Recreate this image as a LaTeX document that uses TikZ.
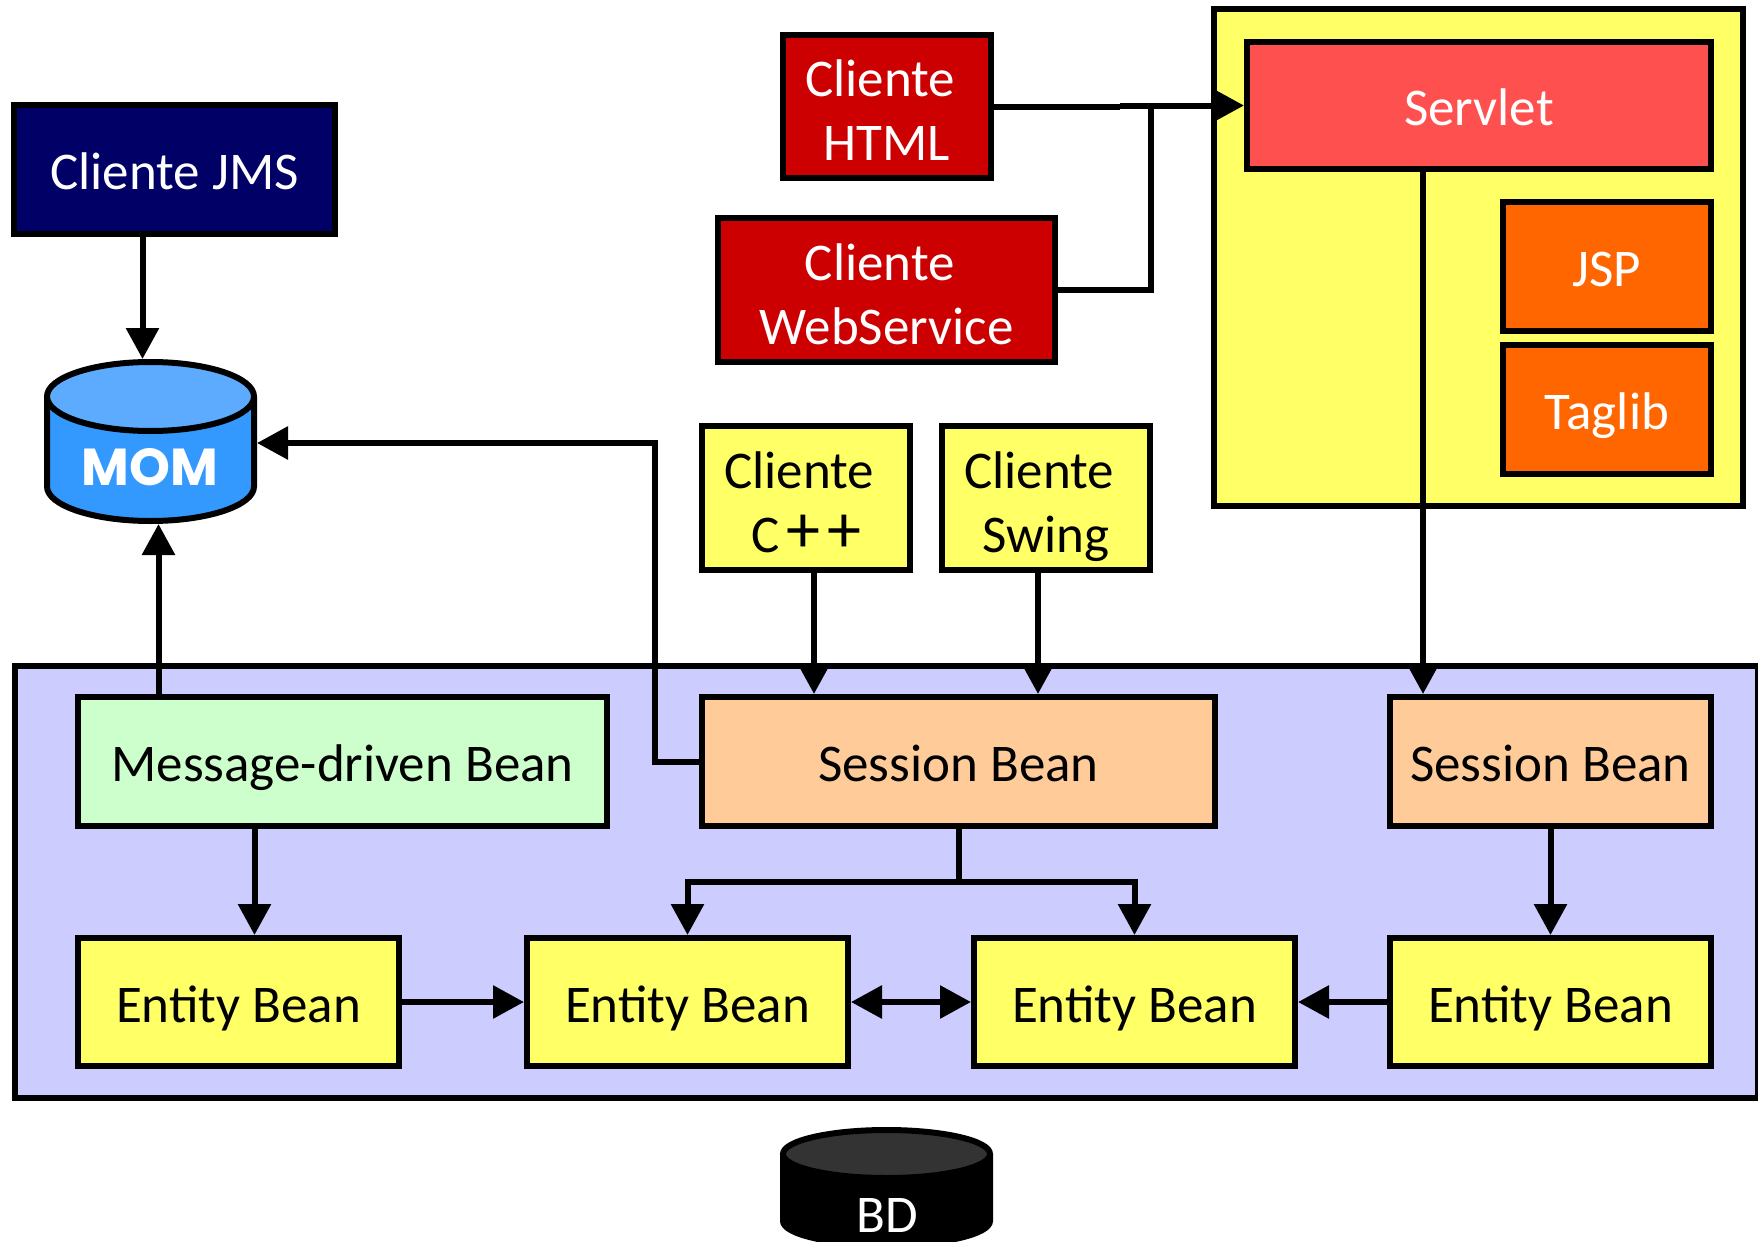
\documentclass[tikz,border=0pt]{standalone}
\usepackage{fontspec}
\setmainfont{Carlito}
\newfontfamily\fontemom{Poppins}
\usetikzlibrary{arrows.meta}

\definecolor{azulescuro}{HTML}{000066}
\definecolor{vermelho}{HTML}{CC0000}
\definecolor{salmao}{HTML}{FF5050}
\definecolor{laranja}{HTML}{FF6600}
\definecolor{amarelo}{HTML}{FFFF66}
\definecolor{lavanda}{HTML}{CCCCFF}
\definecolor{verdeclaro}{HTML}{CCFFCC}
\definecolor{pessego}{HTML}{FFCC99}
\definecolor{azul}{HTML}{3399FF}
\definecolor{azulclaro}{HTML}{5CABFF}

\newcommand{\cliente}{\rule{0pt}{28pt}Cliente\hspace*{6.7pt}}
\newcommand{\escora}{\rule[-5.6pt]{0pt}{31.6pt}}

\tikzset{
  caixa/.style 2 args={draw,line width=3pt,inner sep=0pt,align=center,
    minimum width=#1,minimum height=#2,text=black,
    font=\fontsize{26.5}{32}\selectfont,
    execute at begin node=\escora,execute at end node=\escora},
  base/.style 2 args={inner sep=0pt,outer sep=1.5pt,minimum width=#1,minimum height=#2},
  linha/.style={line width=3pt},
  seta/.style={line width=3pt,-{Triangle[length=15.5pt,width=16pt]}},
  setadupla/.style={line width=3pt,{Triangle[length=15.5pt,width=16pt]}-{Triangle[length=15.5pt,width=16pt]}}
}

\begin{document}
\begin{tikzpicture}[x=.5pt,y=-.5pt]
  \path[use as bounding box,clip] (0,0) rectangle (1758,1242);

  % containers
  \node[caixa={871.75pt}{216pt},fill=lavanda] (ejb) at (886.5,882) {};
  \node[caixa={264.5pt}{248.5pt},fill=amarelo] (web) at (1478.5,257.5) {};

  % clientes
  \node[caixa={160.5pt}{64.5pt},fill=azulescuro,text=white] (jms) at (174.5,169.5) {Cliente JMS};
  \node[caixa={104pt}{71.5pt},fill=vermelho,text=white] (html) at (887,106.5) {\cliente\\HTML};
  \node[caixa={168.5pt}{72pt},fill=vermelho,text=white] (ws) at (886.5,290) {\cliente\\WebService};
  \node[caixa={104pt}{72pt},fill=amarelo] (cpp) at (806,498) {\cliente\\C{\fontsize{34}{32}\selectfont\kern3.5pt+\kern3.5pt+}};
  \node[caixa={104pt}{72pt},fill=amarelo] (swing) at (1046,498) {\cliente\\Swing};

  % camada web
  \node[caixa={232pt}{63.5pt},fill=salmao,text=white] (servlet) at (1479,105.5) {Servlet};
  \node[caixa={104pt}{64.5pt},fill=laranja,text=white] (jsp) at (1607,266.5) {JSP};
  \node[caixa={104pt}{64.5pt},fill=laranja,text=white] (taglib) at (1607,409.5) {Taglib};

  % beans
  \node[caixa={264.5pt}{64.5pt},fill=verdeclaro] (mdb) at (342.5,761.5) {Message-driven Bean};
  \node[caixa={256.5pt}{64.5pt},fill=pessego] (sessaoa) at (958.5,761.5) {Session Bean};
  \node[caixa={160.5pt}{64.5pt},fill=pessego] (sessaob) at (1550.5,761.5) {Session Bean};
  \node[caixa={160.5pt}{64pt},fill=amarelo] (entidadea) at (238.5,1002) {Entity Bean};
  \node[caixa={160.5pt}{64pt},fill=amarelo] (entidadeb) at (687.5,1002) {Entity Bean};
  \node[caixa={160.5pt}{64pt},fill=amarelo] (entidadec) at (1134.5,1002) {Entity Bean};
  \node[caixa={160.5pt}{64pt},fill=amarelo] (entidaded) at (1550.5,1002) {Entity Bean};

  % cilindros
  \draw[linha,fill=azul] (47,396.5) -- (47,486.5) arc[start angle=180,end angle=0,x radius=103.5,y radius=34.5] -- (254,396.5);
  \draw[linha,fill=azulclaro] (150.5,396.5) ellipse[x radius=103.5,y radius=34.5];
  \node[base={103.5pt}{79.5pt}] (mom) at (150.5,441.5) {};
  \node[font=\fontemom\bfseries\fontsize{26}{30}\selectfont,text=white] (momtexto) at (150,467) {MOM};
  \draw[linha,fill=black] (783,1154) -- (783,1221) arc[start angle=180,end angle=0,x radius=103.5,y radius=24] -- (990,1154);
  \draw[linha,fill=black!80] (886.5,1154) ellipse[x radius=103.5,y radius=24];
  \node[font=\fontsize{26.5}{32}\selectfont,text=white] (bd) at (887,1215) {BD};

  % ligacoes
  \coordinate (juncao) at (1120,105.5);
  \coordinate (ramo) at (958.5,882);
  \draw[linha] (html.east) -- (html.east -| juncao);
  \draw[seta] (juncao) -- (servlet.west);
  \draw[linha] (ws.east) -| (1150.5,0 |- juncao);
  \draw[seta] (142.5,0 |- jms.south) -- (142.5,0 |- mom.north);
  \draw[seta] (sessaoa.west) -| (655,443) -- (mom.east |- 0,443);
  \draw[seta] (158.5,0 |- mdb.north) -- (158.5,0 |- mom.south);
  \draw[seta] (814,0 |- cpp.south) -- (814,0 |- sessaoa.north);
  \draw[seta] (1038,0 |- swing.south) -- (1038,0 |- sessaoa.north);
  \draw[seta] (1423,0 |- servlet.south) -- (1423,0 |- sessaob.north);
  \draw[seta] (254.5,0 |- mdb.south) -- (254.5,0 |- entidadea.north);
  \draw[linha] (sessaoa.south) -- (ramo);
  \draw[seta] (ramo) -| (entidadeb.north);
  \draw[seta] (ramo) -| (entidadec.north);
  \draw[seta] (sessaob.south) -- (entidaded.north);
  \draw[seta] (entidadea.east) -- (entidadeb.west);
  \draw[setadupla] (entidadeb.east) -- (entidadec.west);
  \draw[seta] (entidaded.west) -- (entidadec.east);
\end{tikzpicture}
\end{document}
